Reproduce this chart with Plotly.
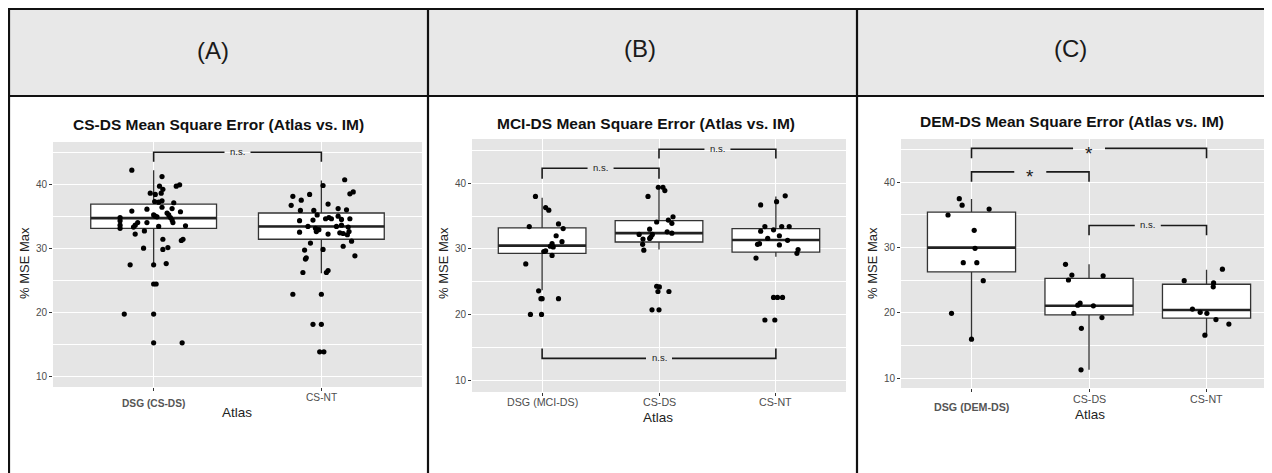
import plotly.graph_objects as go

W, H = 1272, 473
OFF = 8  # browser default body margin
FONT = "Liberation Sans, Arial, sans-serif"

# ---------------- data ----------------
cats_a = ["DSG (CS-DS)", "CS-NT"]
cats_b = ["DSG (MCI-DS)", "CS-DS", "CS-NT"]
cats_c = ["DSG (DEM-DS)", "CS-DS", "CS-NT"]

titles = ["CS-DS Mean Square Error (Atlas vs. IM)",
          "MCI-DS Mean Square Error (Atlas vs. IM)",
          "DEM-DS Mean Square Error (Atlas vs. IM)"]
headers = ["(A)", "(B)", "(C)"]
y_ticks = [10, 20, 30, 40]
y_minor = [15, 25, 35, 45]

# box statistics
a_q1 = [33.1, 31.4];  a_med = [34.7, 33.4];  a_q3 = [36.9, 35.5];  a_lo = [27.4, 26.1];  a_hi = [42.2, 40.6]
b_q1 = [29.3, 31.05, 29.5]; b_med = [30.5, 32.4, 31.35]; b_q3 = [33.2, 34.3, 33.1]; b_lo = [23.7, 29.9, 28.8]; b_hi = [37.8, 39.5, 38.0]
c_q1 = [26.3, 19.7, 19.2];  c_med = [30.0, 21.1, 20.45]; c_q3 = [35.45, 25.3, 24.4]; c_lo = [16.0, 11.3, 16.6]; c_hi = [37.45, 27.45, 26.6]

a1_val = [42.2,41.2,39.7,39.2,38.6,39.7,39.9,38.6,38.4,37.3,37.2,37.4,37.1,36.1,35.8,36.4,36.2,35.7,35.2,35.0,
          34.9,35.5,35.2,34.8,34.4,34.0,34.8,34.3,33.6,33.1,33.6,34.0,33.3,34.0,32.7,32.2,33.4,33.5,31.4,31.2,
          31.4,30.0,29.8,30.1,27.4,27.4,27.6,24.4,24.4,19.7,19.7,15.2,15.2]
a1_jit = [-0.13,0.05,0.035,0.055,0.045,0.135,0.155,-0.02,0.01,0.006,0.03,0.05,0.12,-0.04,-0.13,0.05,0.11,0.16,0,0.01,
          0.02,0.08,0.09,0.10,0.11,0.115,-0.2,-0.2,-0.2,-0.2,-0.11,-0.095,-0.12,-0.04,-0.055,-0.11,0.03,0.19,0.055,0.165,
          0.175,-0.06,0.055,0.085,-0.14,0,0.075,0,0.015,-0.175,0,0,0.17]
a2_val = [40.7,39.8,38.5,38.8,38.1,37.5,38.4,36.7,36.9,35.9,35.9,35.2,36.2,36.0,34.3,34.4,34.6,34.8,34.6,35.0,
          34.5,34.6,33.4,33.1,32.9,32.6,33.4,33.6,33.3,32.5,32.2,32.4,32.3,32.1,32.6,31.1,30.8,30.3,29.7,29.8,
          28.5,28.3,28.8,26.2,26.2,26.5,22.8,22.8,18.1,18.1,13.8,13.8]
a2_jit = [0.139,0.01,0.17,0.19,-0.17,-0.12,-0.07,-0.18,0.04,-0.125,-0.045,-0.025,0.10,0.15,-0.13,-0.05,0.025,0.045,0.06,0.10,
          0.12,0.17,-0.08,-0.035,-0.015,-0.03,0.09,0.12,0.16,-0.13,0.04,0.11,0.13,0.155,0.165,0.18,-0.065,0.13,-0.10,0.01,
          -0.09,-0.095,0.20,-0.11,0.03,0.04,-0.17,0.0,-0.05,0.0,-0.01,0.015]

b1_val = [38.0,36.3,35.9,33.4,33.8,33.1,32.0,31.1,30.8,30.4,30.3,29.7,29.6,29.0,27.7,23.6,22.4,22.4,22.4,20.0,20.0]
b1_jit = [-0.057,0.03,0.057,-0.11,0.14,0.18,0.12,0.17,0.085,0.07,0.095,0.03,0.014,0.085,-0.14,-0.03,0.0,-0.01,0.14,-0.10,-0.005]
b2_val = [39.4,39.4,38.9,38.0,34.1,34.4,34.9,33.9,33.0,32.4,32.6,32.2,32.2,31.8,31.5,31.6,30.7,29.8,24.3,24.2,23.5,23.5,20.7,20.7]
b2_jit = [-0.006,0.034,0.05,-0.094,-0.02,0.08,0.12,0.11,-0.08,0.11,0.07,-0.17,-0.057,-0.07,-0.137,-0.08,-0.14,-0.13,-0.02,0.003,-0.009,0.085,-0.06,0.0]
b3_val = [38.1,37.2,36.7,33.4,33.4,33.4,32.7,32.9,32.0,31.6,31.3,30.7,30.8,30.6,29.9,29.3,28.6,22.6,22.6,22.6,19.15,19.15]
b3_jit = [0.08,0.006,-0.13,-0.094,0.05,0.114,-0.13,-0.02,0.03,-0.07,0.10,-0.157,-0.14,0.03,0.19,0.18,-0.17,-0.02,0.014,0.057,-0.094,-0.009]

c1_val = [37.5,36.5,35.0,35.9,32.65,29.9,27.7,27.7,24.95,19.95,16.0]
c1_jit = [-0.104,-0.08,-0.2,0.15,0.023,0.03,-0.07,0.045,0.1,-0.17,0.0]
c2_val = [27.45,25.8,25.05,25.7,21.5,21.2,21.1,19.95,19.3,17.65,11.3]
c2_jit = [-0.2,-0.146,-0.175,0.12,-0.076,-0.096,0.037,-0.13,0.11,-0.065,-0.068]
c3_val = [26.7,24.95,24.6,24.0,20.6,20.1,19.95,19.0,18.3,16.6]
c3_jit = [0.135,-0.19,0.06,0.057,-0.12,-0.054,0.003,0.08,0.19,-0.014]

# significance brackets
a_sig_left = [1];       a_sig_right = [2];       a_sig_y = [45.0];             a_sig_tip = [43.5];             a_sig_label = ["n.s."]
b_sig_left = [1, 2, 1]; b_sig_right = [2, 3, 3]; b_sig_y = [42.3, 45.2, 13.3]; b_sig_tip = [40.7, 43.8, 14.8]; b_sig_label = ["n.s.", "n.s.", "n.s."]
c_sig_left = [1, 1, 2]; c_sig_right = [3, 2, 3]; c_sig_y = [45.2, 41.6, 33.4]; c_sig_tip = [43.7, 40.1, 31.9]; c_sig_label = ["*", "*", "n.s."]

# ---------------- layout geometry (pixels in the window) ----------------
panels = [
    dict(cats=cats_a, q1=a_q1, med=a_med, q3=a_q3, lo=a_lo, hi=a_hi,
         pts=[(a1_val, a1_jit), (a2_val, a2_jit)],
         sig=(a_sig_left, a_sig_right, a_sig_y, a_sig_tip, a_sig_label),
         px=(53, 422), py=(142, 387), yr=[8.3, 46.6], xr=[0.4, 2.6],
         title_xy=(218, 125), ytitle_xy=(25, 263), xtitle_xy=(237, 412),
         tick_y=[403, 397], bold=[True, False], tick_fs=10.2),
    dict(cats=cats_b, q1=b_q1, med=b_med, q3=b_q3, lo=b_lo, hi=b_hi,
         pts=[(b1_val, b1_jit), (b2_val, b2_jit), (b3_val, b3_jit)],
         sig=(b_sig_left, b_sig_right, b_sig_y, b_sig_tip, b_sig_label),
         px=(472, 846), py=(139, 392), yr=[8.17, 46.76], xr=[0.4, 3.6],
         title_xy=(646, 123), ytitle_xy=(444, 263), xtitle_xy=(658, 417),
         tick_y=[402, 402, 402], bold=[False, False, False], tick_fs=10.7),
    dict(cats=cats_c, q1=c_q1, med=c_med, q3=c_q3, lo=c_lo, hi=c_hi,
         pts=[(c1_val, c1_jit), (c2_val, c2_jit), (c3_val, c3_jit)],
         sig=(c_sig_left, c_sig_right, c_sig_y, c_sig_tip, c_sig_label),
         px=(901, 1270), py=(139, 388), yr=[8.52, 46.63], xr=[0.4, 3.54],
         title_xy=(1072, 121), ytitle_xy=(873, 263), xtitle_xy=(1090, 414),
         tick_y=[407, 399, 399], bold=[True, False, False], tick_fs=10.7),
]

PANEL_BG = "#e5e5e5"
HEADER_BG = "#e8e8e8"
GAP_PX = {"n.s.": 13.0, "*": 16.0}

FW, FH = W - OFF, H - OFF


def fx(p):
    return (p - OFF) / FW


def fy(p):
    return 1 - (p - OFF) / FH


fig = go.Figure()
annotations = []
shapes = []

for k, P in enumerate(panels):
    sfx = "" if k == 0 else str(k + 1)
    xa, ya = "x" + sfx, "y" + sfx
    n = len(P["cats"])
    xs = list(range(1, n + 1))

    fig.add_trace(go.Box(
        x=xs, q1=P["q1"], median=P["med"], q3=P["q3"],
        lowerfence=P["lo"], upperfence=P["hi"],
        width=0.75, whiskerwidth=0, boxpoints=False,
        fillcolor="white", line=dict(color="#333333", width=1.3),
        xaxis=xa, yaxis=ya, showlegend=False, hoverinfo="skip"))
    # thicker median bar
    for i, m in enumerate(P["med"]):
        fig.add_trace(go.Scatter(
            x=[xs[i] - 0.375, xs[i] + 0.375], y=[m, m], mode="lines",
            line=dict(color="#222222", width=2.6), xaxis=xa, yaxis=ya,
            showlegend=False, hoverinfo="skip"))

    # points
    for i, (vals, jit) in enumerate(P["pts"]):
        fig.add_trace(go.Scatter(
            x=[xs[i] + j for j in jit], y=vals, mode="markers",
            marker=dict(color="black", size=5.2), xaxis=xa, yaxis=ya,
            showlegend=False, hoverinfo="skip"))

    # significance brackets
    x_unit_px = (P["px"][1] - P["px"][0]) / (P["xr"][1] - P["xr"][0])
    left, right, ys, tips, labels = P["sig"]
    for l, r, yv, tp, lab in zip(left, right, ys, tips, labels):
        xm = (l + r) / 2
        g = GAP_PX[lab] / x_unit_px
        fig.add_trace(go.Scatter(
            x=[l, l, xm - g, None, xm + g, r, r],
            y=[tp, yv, yv, None, yv, yv, tp], mode="lines",
            line=dict(color="#1a1a1a", width=1.6), xaxis=xa, yaxis=ya,
            showlegend=False, hoverinfo="skip"))
        if lab == "*":
            annotations.append(dict(x=xm, y=yv, xref=xa, yref=ya, text=lab, showarrow=False,
                                    font=dict(family=FONT, size=19, color="#1a1a1a"),
                                    xanchor="center", yanchor="middle", yshift=-5))
        else:
            annotations.append(dict(x=xm, y=yv, xref=xa, yref=ya, text=lab, showarrow=False,
                                    font=dict(family=FONT, size=9.5, color="#1a1a1a"),
                                    xanchor="center", yanchor="middle", yshift=1))

    # axes
    fig.update_layout(**{
        ("xaxis" + sfx): dict(domain=[fx(P["px"][0]), fx(P["px"][1])], range=P["xr"],
                              anchor=ya, tickvals=xs, showticklabels=False,
                              ticks="outside", ticklen=3, tickcolor="#333333", tickwidth=1,
                              showgrid=True, gridcolor="white", gridwidth=1.1,
                              zeroline=False, showline=False, fixedrange=True),
        ("yaxis" + sfx): dict(domain=[fy(P["py"][1]), fy(P["py"][0])], range=P["yr"],
                              anchor=xa, tickvals=y_ticks,
                              ticks="outside", ticklen=3, tickcolor="#333333", tickwidth=1,
                              tickfont=dict(family=FONT, size=10, color="#4d4d4d"),
                              showgrid=True, gridcolor="white", gridwidth=1.1,
                              minor=dict(tickvals=y_minor, showgrid=True, gridcolor="white", gridwidth=0.5),
                              zeroline=False, showline=False, fixedrange=True),
    })

    # x tick labels
    for i, c in enumerate(P["cats"]):
        txt = "<b>%s</b>" % c if P["bold"][i] else c
        annotations.append(dict(x=xs[i], y=fy(P["tick_y"][i]), xref=xa, yref="paper", text=txt,
                                showarrow=False, xanchor="center", yanchor="middle",
                                font=dict(family=FONT, size=P["tick_fs"],
                                          color="#555555" if P["bold"][i] else "#4d4d4d")))
    # titles
    annotations.append(dict(x=fx(P["title_xy"][0]), y=fy(P["title_xy"][1]), xref="paper", yref="paper",
                            text="<b>%s</b>" % titles[k], showarrow=False, xanchor="center", yanchor="middle",
                            font=dict(family=FONT, size=15.5, color="#111111")))
    annotations.append(dict(x=fx(P["ytitle_xy"][0]), y=fy(P["ytitle_xy"][1]), xref="paper", yref="paper",
                            text="% MSE Max", textangle=-90, showarrow=False, xanchor="center", yanchor="middle",
                            font=dict(family=FONT, size=13, color="#222222")))
    annotations.append(dict(x=fx(P["xtitle_xy"][0]), y=fy(P["xtitle_xy"][1]), xref="paper", yref="paper",
                            text="Atlas", showarrow=False, xanchor="center", yanchor="middle",
                            font=dict(family=FONT, size=13.5, color="#222222")))

# header labels
for hx, hy, txt in zip([213, 640, 1070], [50, 48, 49], headers):
    annotations.append(dict(x=fx(hx), y=fy(hy), xref="paper", yref="paper", text=txt, showarrow=False,
                            xanchor="center", yanchor="middle",
                            font=dict(family=FONT, size=24, color="#1a1a1a")))

# frame
shapes.append(dict(type="rect", xref="paper", yref="paper", x0=fx(8), x1=fx(1272), y0=fy(96), y1=fy(9),
                   fillcolor=HEADER_BG, line=dict(width=0), layer="below"))
for (x0, y0, x1, y1) in [(8, 9, 1272, 9), (8, 96, 1272, 96), (9, 9, 9, 473), (428, 9, 428, 473), (857, 9, 857, 473)]:
    shapes.append(dict(type="line", xref="paper", yref="paper", x0=fx(x0), x1=fx(x1), y0=fy(y0), y1=fy(y1),
                       line=dict(color="#111111", width=2.2)))

fig.update_layout(width=FW, height=FH, margin=dict(l=0, r=0, t=0, b=0),
                  paper_bgcolor="white", plot_bgcolor=PANEL_BG,
                  annotations=annotations, shapes=shapes, showlegend=False)

fig.write_html("out.html")
